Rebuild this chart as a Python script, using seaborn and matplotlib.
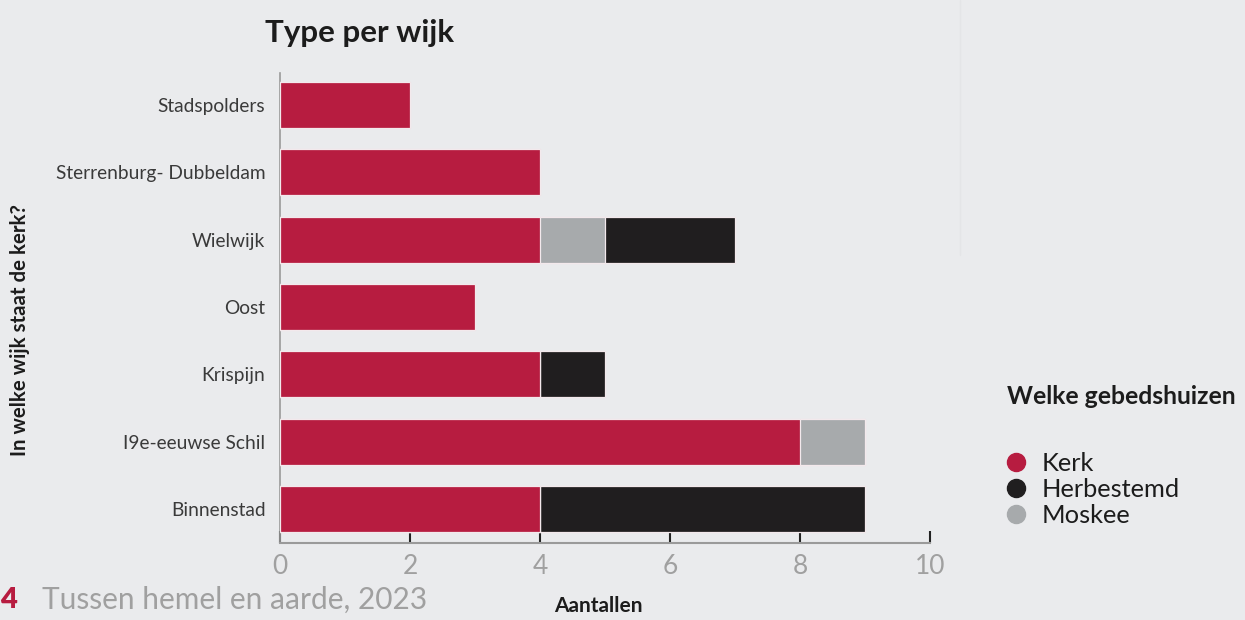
import matplotlib
matplotlib.use("Agg")
import matplotlib.pyplot as plt
from matplotlib.lines import Line2D
import seaborn as sns
import pandas as pd
import numpy as np

# ---- data ----
wijken = ["Stadspolders", "Sterrenburg- Dubbeldam", "Wielwijk", "Oost",
          "Krispijn", "I9e-eeuwse Schil", "Binnenstad"]
kerk = [2, 4, 4, 3, 4, 8, 4]
moskee = [0, 0, 1, 0, 0, 1, 0]
herbestemd = [0, 0, 2, 0, 1, 0, 5]
x_ticks = [0, 2, 4, 6, 8, 10]

RED = "#b71c40"
BLACK = "#201e1f"
GREY = "#a7aaac"
BG = "#eaebed"

sns.set_theme(style="white")
plt.rcParams["font.family"] = ["Lato", "DejaVu Sans"]

df = pd.DataFrame({"wijk": wijken, "kerk": kerk, "moskee": moskee, "herbestemd": herbestemd})
df["c1"] = df["kerk"]
df["c2"] = df["kerk"] + df["moskee"]
df["c3"] = df["c2"] + df["herbestemd"]

fig = plt.figure(figsize=(12.45, 6.2), dpi=100, facecolor=BG)
ax = fig.add_axes([280 / 1245, 1 - 543 / 620, 650 / 1245, 470 / 620])
ax.set_facecolor(BG)

edge = dict(edgecolor="#f3e9ec", linewidth=0.9)
sns.barplot(data=df, x="c3", y="wijk", orient="h", color=BLACK, width=0.68,
            saturation=1, ax=ax, zorder=3, **edge)
sns.barplot(data=df, x="c2", y="wijk", orient="h", color=GREY, width=0.68,
            saturation=1, ax=ax, zorder=4, **edge)
sns.barplot(data=df, x="c1", y="wijk", orient="h", color=RED, width=0.68,
            saturation=1, ax=ax, zorder=5, **edge)

ax.set_xlim(0, 10)
ax.set_ylim(6.505, -0.475)
ax.set_xticks(x_ticks)
ax.set_xticklabels([str(t) for t in x_ticks], fontsize=19, fontweight="normal", color="#a0a0a0")
ax.tick_params(axis="x", direction="in", length=9, width=1.5, color="#222222", pad=8, bottom=True)
ax.tick_params(axis="y", length=0, pad=10.5)
for lbl in ax.get_yticklabels():
    lbl.set_fontsize(13.8)
    lbl.set_fontweight("normal")
    lbl.set_color("#3a3a3a")

for s in ["top", "right"]:
    ax.spines[s].set_visible(False)
ax.spines["left"].set_color("#9a9a9a")
ax.spines["left"].set_linewidth(1.2)
ax.spines["left"].set_zorder(1)
ax.spines["bottom"].set_color("#9a9a9a")
ax.spines["bottom"].set_linewidth(1.5)

ax.set_xlabel("")
ax.set_ylabel("")

# titles and labels
fig.text(265 / 1245, 1 - 33 / 620, "Type per wijk", fontsize=22.5, fontweight="bold",
         color="#1c1c1c", va="center", ha="left")
fig.text(598 / 1245, 1 - 606 / 620, "Aantallen", fontsize=15, fontweight="bold",
         color="#1c1c1c", va="center", ha="center")
fig.text(20 / 1245, 1 - 330 / 620, "In welke wijk staat de kerk?", fontsize=14.7,
         fontweight="bold", color="#1c1c1c", va="center", ha="center", rotation=90)

# footer
fig.text(0 / 1245, 1 - 600 / 620, "4", fontsize=21, fontweight="heavy", color=RED,
         va="center", ha="left")
fig.text(42 / 1245, 1 - 600 / 620, "Tussen hemel en aarde, 2023", fontsize=21.5,
         fontweight="normal", color="#a0a0a0", va="center", ha="left")

# faint panel divider
fig.add_artist(Line2D([960 / 1245, 960 / 1245], [1.0, 1 - 255 / 620],
                      transform=fig.transFigure, color="#e4e5e7", linewidth=1))

# legend
fig.text(1007 / 1245, 1 - 397 / 620, "Welke gebedshuizen", fontsize=17.8,
         fontweight="bold", color="#1c1c1c", va="center", ha="left")
handles = [Line2D([], [], marker="o", linestyle="", markersize=13, color=c)
           for c in [RED, BLACK, GREY]]
leg = fig.legend(handles, ["Kerk", "Herbestemd", "Moskee"], loc="upper left",
                 bbox_to_anchor=(1005 / 1245, 1 - 452 / 620), frameon=False,
                 fontsize=18.3, handlelength=0.9, handletextpad=0.55, labelspacing=0.12,
                 borderpad=0, borderaxespad=0)
for t in leg.get_texts():
    t.set_color("#1c1c1c")

fig.savefig("out.png", dpi=100, facecolor=BG)
